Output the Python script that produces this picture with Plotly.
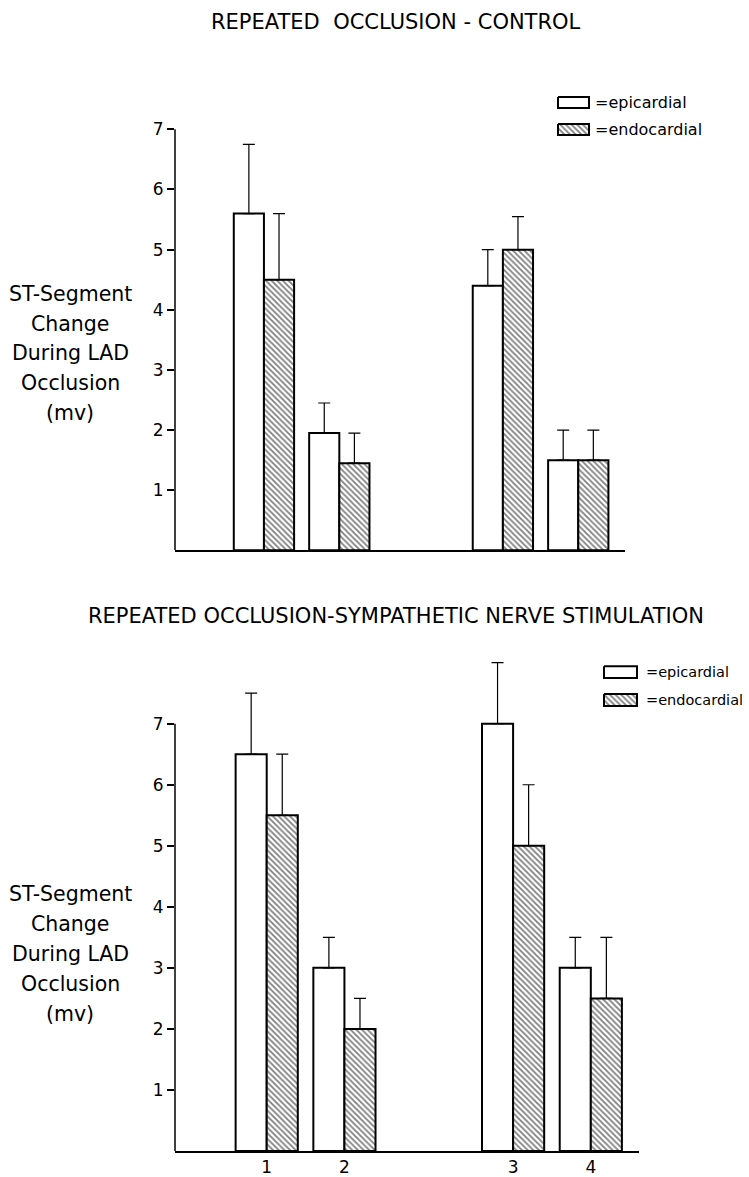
import plotly.graph_objects as go

# ---- data -------------------------------------------------------------
occlusions = ["1", "2", "3", "4"]
occlusion_pos = [1, 2, 4.17, 5.17]          # x positions of the four occlusion groups

control_epi = [5.6, 1.95, 4.4, 1.5]
control_epi_sem = [1.15, 0.5, 0.6, 0.5]
control_endo = [4.5, 1.45, 5.0, 1.5]
control_endo_sem = [1.1, 0.5, 0.55, 0.5]

sns_epi = [6.5, 3.0, 7.0, 3.0]
sns_epi_sem = [1.0, 0.5, 1.0, 0.5]
sns_endo = [5.5, 2.0, 5.0, 2.5]
sns_endo_sem = [1.0, 0.5, 1.0, 1.0]

y_ticks = [1, 2, 3, 4, 5, 6, 7]
y_title_lines = ["ST-Segment", "Change", "During LAD", "Occlusion", "(mv)"]
titles = ["REPEATED  OCCLUSION - CONTROL",
          "REPEATED OCCLUSION-SYMPATHETIC NERVE STIMULATION"]
legend_labels = ["=epicardial", "=endocardial"]

# ---- page geometry ----------------------------------------------------
W, H = 749, 1177
FONT = "DejaVu Sans"
BAR_W = 0.4
HATCH = dict(shape="\\", size=4, solidity=0.45, fgcolor="black", bgcolor="white")


def px(x):
    return x / W


def py(y):
    return 1 - y / H


fig = go.Figure()


def add_pair(epi, epi_sem, endo, endo_sem, xa, ya):
    err = dict(type="data", symmetric=False, arrayminus=[0] * len(epi),
               color="black", thickness=1.2, width=6)
    fig.add_trace(go.Bar(
        x=occlusion_pos, y=epi, width=BAR_W, offset=-BAR_W,
        marker=dict(color="white", line=dict(color="black", width=2)),
        error_y=dict(array=epi_sem, **err),
        xaxis=xa, yaxis=ya, showlegend=False, name="epicardial"))
    fig.add_trace(go.Bar(
        x=occlusion_pos, y=endo, width=BAR_W, offset=0,
        marker=dict(color="white", line=dict(color="black", width=2),
                    pattern=HATCH),
        error_y=dict(array=endo_sem, **err),
        xaxis=xa, yaxis=ya, showlegend=False, name="endocardial"))


add_pair(control_epi, control_epi_sem, control_endo, control_endo_sem, "x", "y")
add_pair(sns_epi, sns_epi_sem, sns_endo, sns_endo_sem, "x2", "y2")

# ---- legend keys drawn on a full-page pixel layer ----------------------
legend_boxes = [(558, 31, 11, 103, 130, 593, 16),
                (604, 33, 12, 675, 703, 644, 14.5)]
for (bx, bw, bh, ty1, ty2, tx, fs) in legend_boxes:
    for i, (ty, label) in enumerate(zip([ty1, ty2], legend_labels)):
        top = ty - bh / 2
        fig.add_trace(go.Scatter(
            x=[bx, bx + bw, bx + bw, bx, bx], y=[top, top, top + bh, top + bh, top],
            mode="lines", fill="toself", fillcolor="white",
            fillpattern=HATCH if i == 1 else None,
            line=dict(color="black", width=2),
            xaxis="x3", yaxis="y3", showlegend=False, hoverinfo="skip"))
        fig.add_annotation(x=px(tx), y=py(ty), xref="paper", yref="paper",
                           text=label, showarrow=False, xanchor="left",
                           yanchor="middle",
                           font=dict(family=FONT, size=fs, color="black"))

# ---- titles -----------------------------------------------------------
for t, ty in zip(titles, [22, 619]):
    fig.add_annotation(x=px(396), y=py(ty), xref="paper", yref="paper",
                       text=t, showarrow=False, xanchor="center",
                       yanchor="middle",
                       font=dict(family=FONT, size=21, color="black"))

# ---- y-axis titles (one line per annotation) --------------------------
for first in [295, 898]:
    for i, line in enumerate(y_title_lines):
        fig.add_annotation(x=px(70), y=py(first + 30 * i), xref="paper",
                           yref="paper", text=line, showarrow=False,
                           xanchor="center", yanchor="middle",
                           font=dict(family=FONT, size=20.5, color="black"))

# ---- vertical axis lines stop at the top tick -------------------------
for xd, yr in [("x domain", "y"), ("x2 domain", "y2")]:
    fig.add_shape(type="line", xref=xd, yref=yr, x0=0, x1=0, y0=0, y1=7,
                  line=dict(color="black", width=1.5))

yaxis_common = dict(tickvals=y_ticks, ticks="outside", ticklen=7,
                    tickwidth=1.5, tickcolor="black", showgrid=False,
                    zeroline=False, showline=False,
                    tickfont=dict(family=FONT, size=17, color="black"))
xaxis_common = dict(range=[-0.18, 5.79], showgrid=False, zeroline=False,
                    showline=True, linecolor="black", linewidth=2)

fig.update_layout(
    width=W, height=H, autosize=False,
    margin=dict(l=0, r=0, t=0, b=0),
    paper_bgcolor="white", plot_bgcolor="rgba(0,0,0,0)",
    barmode="overlay",
    xaxis=dict(domain=[px(175), px(625)], anchor="y", showticklabels=False,
               ticks="", **xaxis_common),
    yaxis=dict(domain=[py(552.7), py(99.7)], range=[0, 7.5], anchor="x",
               **yaxis_common),
    xaxis2=dict(domain=[px(175), px(639)], anchor="y2", tickvals=occlusion_pos,
                ticktext=occlusions, ticks="",
                tickfont=dict(family=FONT, size=17, color="black"),
                **xaxis_common),
    yaxis2=dict(domain=[py(1155.9), py(653.2)], range=[0, 8.2], anchor="x2",
                **yaxis_common),
    xaxis3=dict(domain=[0, 1], range=[0, W], visible=False, anchor="y3"),
    yaxis3=dict(domain=[0, 1], range=[H, 0], visible=False, anchor="x3"),
    showlegend=False,
)

fig.write_html("out.html")
